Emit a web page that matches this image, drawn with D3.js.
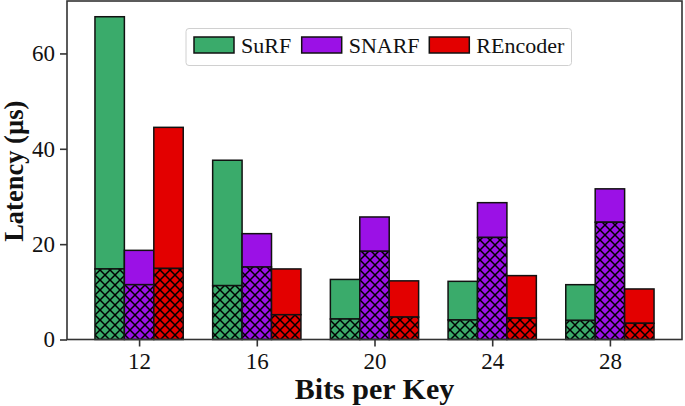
<!DOCTYPE html>
<html><head><meta charset="utf-8">
<script src="https://cdn.jsdelivr.net/npm/d3@7"></script>
<style>body{margin:0;background:#fff}svg{display:block}text{font-family:"Liberation Serif","Times New Roman",Times,serif}</style>
</head><body>
<script>
const categories = ["12","16","20","24","28"];
const seriesNames = ["SuRF","SNARF","REncoder"];
const seriesColors = ["#3aab6b","#9b11e6","#e30000"];
// total latency per series
const surfTotal = [67.7, 37.6, 12.6, 12.2, 11.5];
const snarfTotal = [18.7, 22.2, 25.7, 28.7, 31.6];
const rencTotal = [44.5, 14.8, 12.3, 13.4, 10.6];
// hatched (lower) part per series
const surfPart = [14.8, 11.3, 4.3, 4.1, 4.0];
const snarfPart = [11.5, 15.2, 18.5, 21.4, 24.6];
const rencPart = [14.9, 5.2, 4.7, 4.5, 3.4];
const yTicks = [0, 20, 40, 60];

const totals = [surfTotal, snarfTotal, rencTotal];
const parts = [surfPart, snarfPart, rencPart];

const W = 685, H = 406;
const m = {l: 67, r: 3, t: 1, b: 66.5};
const svg = d3.select("body").append("svg").attr("width", W).attr("height", H);
const defs = svg.append("defs");
const P = 10;
seriesColors.forEach((c, i) => {
  const p = defs.append("pattern").attr("id", "hatch" + i)
    .attr("patternUnits", "userSpaceOnUse").attr("width", P).attr("height", P);
  p.append("rect").attr("width", P).attr("height", P).attr("fill", c);
  p.append("path").attr("d", `M-1,-1 L${P+1},${P+1} M-1,${P+1} L${P+1},-1`)
    .attr("stroke", "#000").attr("stroke-width", 1.5).attr("fill", "none");
});

const x = d3.scaleLinear().domain([-0.6125, 4.6125]).range([m.l, W - m.r]);
const y = d3.scaleLinear().domain([0, 71]).range([H - m.b, m.t]);
const bw = 0.25;
const offs = [-bw, 0, bw];

const g = svg.append("g");
seriesNames.forEach((s, si) => {
  categories.forEach((c, ci) => {
    const x0 = x(ci + offs[si] - bw / 2), x1 = x(ci + offs[si] + bw / 2);
    g.append("rect").attr("x", x0).attr("width", x1 - x0)
      .attr("y", y(totals[si][ci])).attr("height", y(parts[si][ci]) - y(totals[si][ci]))
      .attr("fill", seriesColors[si]).attr("stroke", "#111").attr("stroke-width", 1.5);
    g.append("rect").attr("x", x0).attr("width", x1 - x0)
      .attr("y", y(parts[si][ci])).attr("height", y(0) - y(parts[si][ci]))
      .attr("fill", "url(#hatch" + si + ")").attr("stroke", "#111").attr("stroke-width", 1.5);
  });
});

svg.append("rect").attr("x", m.l).attr("y", m.t).attr("width", W - m.r - m.l).attr("height", H - m.b - m.t)
  .attr("fill", "none").attr("stroke", "#333").attr("stroke-width", 1.6);

const xAxis = svg.append("g").attr("transform", `translate(0,${H - m.b})`)
  .call(d3.axisBottom(x).tickValues(d3.range(categories.length)).tickFormat(i => categories[i]).tickSize(7).tickPadding(6));
const yAxis = svg.append("g").attr("transform", `translate(${m.l},0)`)
  .call(d3.axisLeft(y).tickValues(yTicks).tickSize(7).tickPadding(5));
[xAxis, yAxis].forEach(a => {
  a.attr("font-family", null);
  a.select(".domain").remove();
  a.selectAll(".tick line").attr("stroke", "#333").attr("stroke-width", 1.6);
  a.selectAll(".tick text").attr("font-size", 23).attr("fill", "#111");
});

svg.append("text").attr("x", (m.l + W - m.r) / 2).attr("y", 399).attr("text-anchor", "middle")
  .attr("font-weight", "bold").attr("font-size", 30).attr("fill", "#111")
  .text("Bits per Key");
svg.append("text").attr("transform", `translate(23,${(m.t + H - m.b) / 2 + 1}) rotate(-90)`).attr("text-anchor", "middle")
  .attr("font-weight", "bold").attr("font-size", 26.5).attr("fill", "#111")
  .text("Latency (µs)");

const lg = svg.append("g");
lg.append("rect").attr("x", 186).attr("y", 28.5).attr("width", 385.5).attr("height", 37).attr("rx", 3)
  .attr("fill", "#fff").attr("fill-opacity", 0.8).attr("stroke", "#d0d0d0").attr("stroke-width", 1);
const lx = [194, 301.7, 429.3];
seriesNames.forEach((s, i) => {
  lg.append("rect").attr("x", lx[i]).attr("y", 37).attr("width", 40).attr("height", 16)
    .attr("fill", seriesColors[i]).attr("stroke", "#111").attr("stroke-width", 1.5);
  lg.append("text").attr("x", lx[i] + 47).attr("y", 53).attr("font-size", 22)
    .attr("fill", "#111").text(s);
});
</script>
</body></html>
